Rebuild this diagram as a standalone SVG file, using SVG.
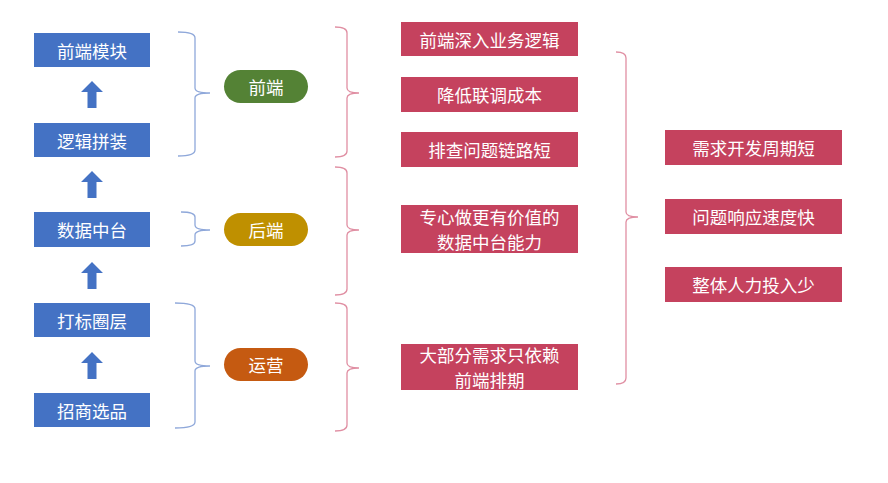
<svg xmlns="http://www.w3.org/2000/svg" width="888" height="483" viewBox="0 0 888 483">
<style>
.blue{fill:#4472C4}
.red{fill:#C5425E}
.t{font-family:"Noto Sans CJK SC","Liberation Sans",sans-serif;font-size:17.5px;fill:#fff;text-anchor:middle;dominant-baseline:central}
.bb{fill:none;stroke:#8FA8DA;stroke-width:1.3}
.rb{fill:none;stroke:#E08FA3;stroke-width:1.3}
.arr{fill:#4472C4}
</style>
<rect width="888" height="483" fill="#fff"/>
<g id="connectors">
<polygon class="arr" points="92,81 103,92 96.5,92 96.5,108 87.5,108 87.5,92 81,92"/>
<polygon class="arr" points="92,171 103,182 96.5,182 96.5,198 87.5,198 87.5,182 81,182"/>
<polygon class="arr" points="92,262 103,273 96.5,273 96.5,289 87.5,289 87.5,273 81,273"/>
<polygon class="arr" points="92,352 103,363 96.5,363 96.5,379 87.5,379 87.5,363 81,363"/>
<path class="bb" d="M178,32 Q195,32 195,38 V88 Q195,93 210,93 M210,93 Q195,93 195,98 V150 Q195,156 178,156"/>
<path class="bb" d="M181,212 Q195,212 195,217 V225 Q195,230 210,230 M210,230 Q195,230 195,235 V241 Q195,246 181,246"/>
<path class="bb" d="M175,303 Q195,303 195,309 V361 Q195,366 210,366 M210,366 Q195,366 195,371 V422 Q195,428 175,428"/>
<path class="rb" d="M335,27 Q347,27 347,33 V88 Q347,93 359,93 M359,93 Q347,93 347,98 V151 Q347,157 335,157"/>
<path class="rb" d="M335,167 Q347,167 347,173 V225 Q347,230 359,230 M359,230 Q347,230 347,235 V289 Q347,295 335,295"/>
<path class="rb" d="M335,303 Q347,303 347,309 V363 Q347,368 359,368 M359,368 Q347,368 347,373 V425 Q347,431 335,431"/>
<path class="rb" d="M616,52 Q626,52 626,58 V212 Q626,217 638,217 M638,217 Q626,217 626,222 V378 Q626,384 616,384"/>
</g>
<g id="n1"><rect class="blue" x="34" y="33" width="116" height="34"/><text class="t" x="92" y="50">前端模块</text></g>
<g id="n2"><rect class="blue" x="34" y="123" width="116" height="34"/><text class="t" x="92" y="140">逻辑拼装</text></g>
<g id="n3"><rect class="blue" x="34" y="212" width="116" height="35"/><text class="t" x="92" y="229.5">数据中台</text></g>
<g id="n4"><rect class="blue" x="34" y="303" width="116" height="34"/><text class="t" x="92" y="320">打标圈层</text></g>
<g id="n5"><rect class="blue" x="34" y="393" width="116" height="34"/><text class="t" x="92" y="410">招商选品</text></g>
<g id="p1"><rect x="224" y="70" width="84" height="33" rx="16.5" fill="#548235"/><text class="t" x="266" y="86.5">前端</text></g>
<g id="p2"><rect x="224" y="213" width="84" height="33" rx="16.5" fill="#BF9000"/><text class="t" x="266" y="229.5">后端</text></g>
<g id="p3"><rect x="224" y="348" width="84" height="33" rx="16.5" fill="#C55A11"/><text class="t" x="266" y="364.5">运营</text></g>
<g id="r1"><rect class="red" x="401" y="22" width="177" height="34"/><text class="t" x="489.5" y="39">前端深入业务逻辑</text></g>
<g id="r2"><rect class="red" x="401" y="77" width="177" height="35"/><text class="t" x="489.5" y="94.5">降低联调成本</text></g>
<g id="r3"><rect class="red" x="401" y="132" width="177" height="35"/><text class="t" x="489.5" y="149.5">排查问题链路短</text></g>
<g id="r4"><rect class="red" x="401" y="205" width="177" height="48"/><text class="t" x="489.5" y="216.3">专心做更有价值的</text><text class="t" x="489.5" y="241.7">数据中台能力</text></g>
<g id="r5"><rect class="red" x="401" y="344" width="177" height="46"/><text class="t" x="489.5" y="354.3">大部分需求只依赖</text><text class="t" x="489.5" y="379.7">前端排期</text></g>
<g id="s1"><rect class="red" x="665" y="130" width="177" height="35"/><text class="t" x="753.5" y="147.5">需求开发周期短</text></g>
<g id="s2"><rect class="red" x="665" y="199" width="177" height="35"/><text class="t" x="753.5" y="216.5">问题响应速度快</text></g>
<g id="s3"><rect class="red" x="665" y="267" width="177" height="35"/><text class="t" x="753.5" y="284.5">整体人力投入少</text></g>
</svg>
